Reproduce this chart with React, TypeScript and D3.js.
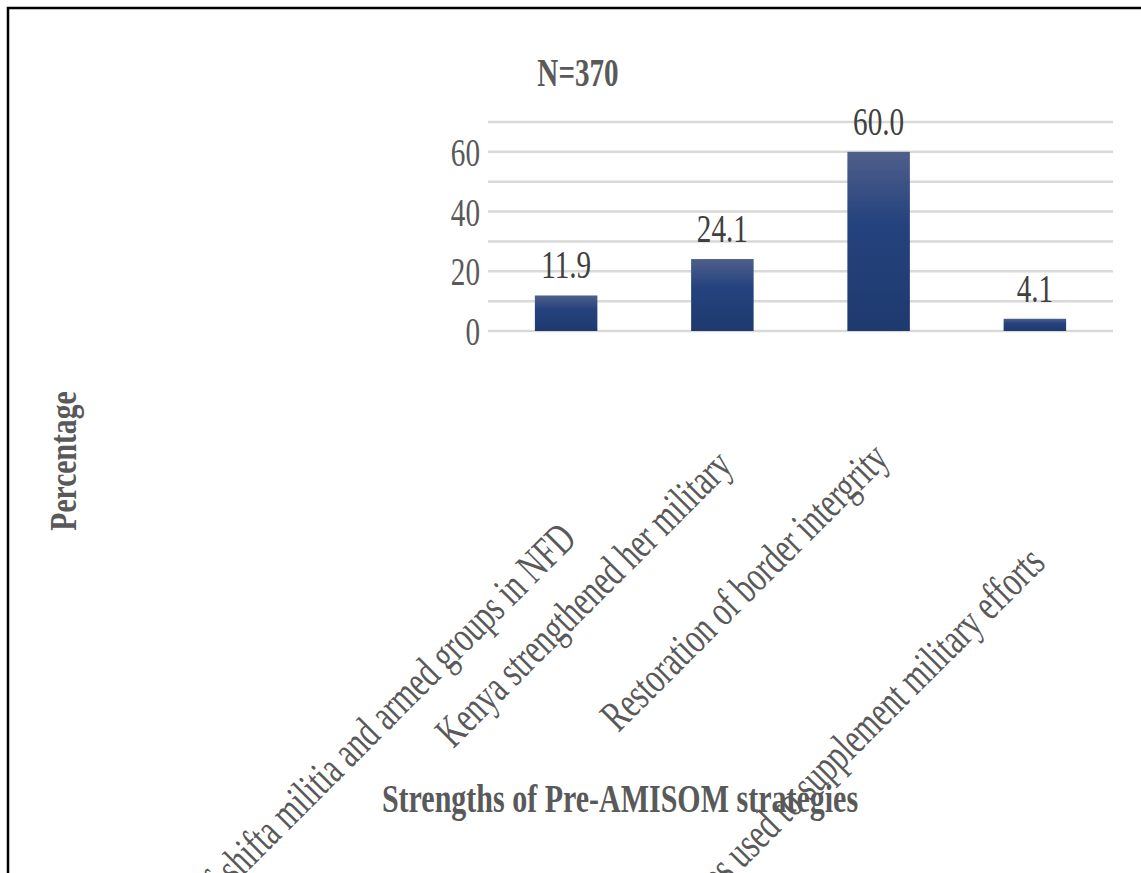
import React from 'react';
import * as d3 from 'd3';

const categories = [
  'Containment of shifta militia and armed groups in NFD',
  'Kenya strengthened her military',
  'Restoration of border intergrity',
  'Kenya Police Reserves used to supplement military efforts',
];
const percentages = [11.9, 24.1, 60.0, 4.1];
const yTicks = [0, 20, 40, 60];
const yGrid = [0, 10, 20, 30, 40, 50, 60, 70];

const FONT = '"Liberation Serif", "Times New Roman", serif';
const SQUEEZE = 0.73;

export default function App() {
  const width = 1141;
  const height = 873;

  const x = d3.scaleBand<string>().domain(categories).range([488, 1113])
    .paddingInner(0.6).paddingOuter(0.3);
  const y = d3.scaleLinear().domain([0, 70]).range([331, 122]);

  // Excel left the rotated labels at uneven heights; drop of each label's end below the axis
  const labelDrop = [210, 137, 130, 234];

  return (
    <svg width={width} height={height} style={{ position: 'absolute', left: 0, top: 0 }} fontFamily={FONT}>
      <defs>
        <linearGradient id="barFill" x1="0" y1="0" x2="0" y2="1">
          <stop offset="0%" stopColor="#4f5f8a" />
          <stop offset="40%" stopColor="#24427e" />
          <stop offset="100%" stopColor="#1e3a6e" />
        </linearGradient>
      </defs>
      <rect x={0} y={0} width={width} height={height} fill="#fff" />
      <rect x={8} y={8} width={1200} height={1000} fill="none" stroke="#000" strokeWidth={2.5} />

      {/* gridlines */}
      {yGrid.map((t) => (
        <line key={t} x1={488} x2={1113} y1={y(t)} y2={y(t)} stroke="#d9d9d9" strokeWidth={2.5} />
      ))}

      {/* y tick labels */}
      {yTicks.map((t) => (
        <text key={t} transform={`translate(480,${y(t)}) scale(${SQUEEZE},1)`} dy="0.35em"
          textAnchor="end" fontSize={40} fill="#595959">{t}</text>
      ))}

      {/* bars */}
      {categories.map((c, i) => (
        <rect key={c} x={x(c)} y={y(percentages[i])} width={x.bandwidth()}
          height={y(0) - y(percentages[i])} fill="url(#barFill)" />
      ))}

      {/* value labels */}
      {categories.map((c, i) => (
        <text key={c} transform={`translate(${x(c)! + x.bandwidth() / 2},${y(percentages[i]) - 17}) scale(${SQUEEZE},1)`}
          textAnchor="middle" fontSize={40} fill="#404040">{percentages[i].toFixed(1)}</text>
      ))}

      {/* category labels */}
      {categories.map((c, i) => (
        <text key={c}
          transform={`translate(${x(c)! + x.bandwidth() / 2 + 12},${y(0) + labelDrop[i]}) rotate(-45) scale(0.7,1)`}
          textAnchor="end" fontSize={44} fill="#595959">{c}</text>
      ))}

      {/* titles */}
      <text transform={`translate(578,86) scale(0.71,1)`} textAnchor="middle" fontSize={41}
        fontWeight="bold" fill="#595959">N=370</text>
      <text transform={`translate(76,461) rotate(-90) scale(0.78,1)`} textAnchor="middle" fontSize={38}
        fontWeight="bold" fill="#595959">Percentage</text>
      <text transform={`translate(620,812) scale(0.75,1)`} textAnchor="middle" fontSize={40}
        fontWeight="bold" fill="#595959">Strengths of Pre-AMISOM strategies</text>
    </svg>
  );
}
